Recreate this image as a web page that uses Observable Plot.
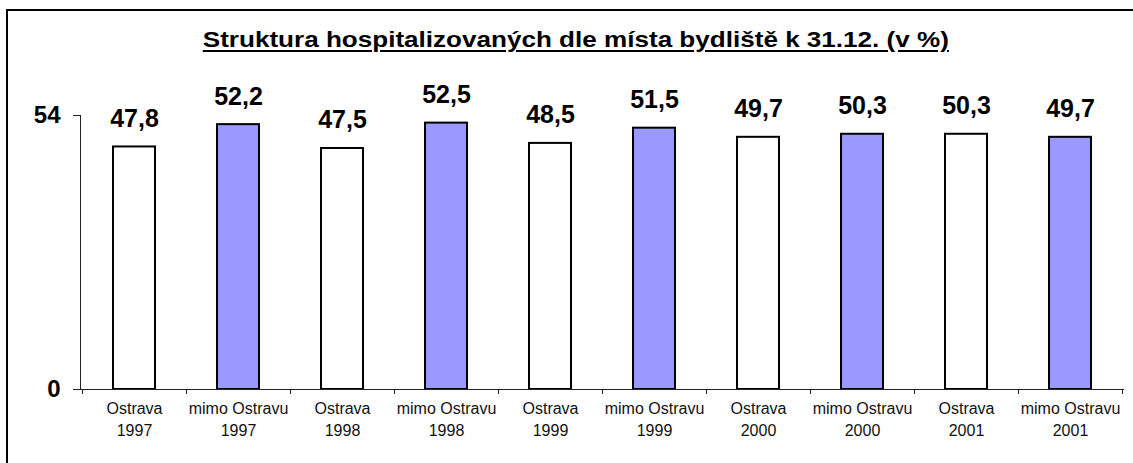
<!DOCTYPE html>
<html>
<head>
<meta charset="utf-8">
<script src="https://cdn.jsdelivr.net/npm/d3@7"></script>
<script src="https://cdn.jsdelivr.net/npm/@observablehq/plot@0.6"></script>
<style>
  html, body { margin: 0; padding: 0; background: #fff; overflow: hidden; }
  #wrap { position: relative; width: 1133px; height: 463px; overflow: hidden; background: #fff; }
  #border { position: absolute; left: 6px; top: 9px; width: 1200px; height: 600px; border: 2px solid #000; box-sizing: border-box; }
  #title { position: absolute; left: 0; top: 27px; width: 1152px; text-align: center; }
  #title span { display: inline-block; transform: scaleX(1.185); transform-origin: center;
    font-family: "Liberation Sans", Arial, sans-serif; font-weight: bold; font-size: 22px;
    text-decoration: underline; text-decoration-thickness: 2px; text-underline-offset: 3px; color: #000; }
  #chart { position: absolute; left: 0; top: 0; }
</style>
</head>
<body>
<div id="wrap">
  <div id="border"></div>
  <div id="title"><span>Struktura hospitalizovaných dle místa bydliště k 31.12. (v %)</span></div>
  <div id="chart"></div>
</div>
<script>
const places = ["Ostrava", "mimo Ostravu", "Ostrava", "mimo Ostravu", "Ostrava", "mimo Ostravu", "Ostrava", "mimo Ostravu", "Ostrava", "mimo Ostravu"];
const years = ["1997", "1997", "1998", "1998", "1999", "1999", "2000", "2000", "2001", "2001"];
const values = [47.8, 52.2, 47.5, 52.5, 48.5, 51.5, 49.7, 50.3, 50.3, 49.7];
const yTicks = [0, 54];
const groups = ["Ostrava", "mimo Ostravu"];
const groupColors = ["#ffffff", "#9999ff"];

const labels = places.map((p, i) => p + "\n" + years[i]);
const data = labels.map((l, i) => ({label: l, place: places[i], value: values[i]}));

const axisLines = (index, scales, vals, dims) => {
  const x = scales.x, y = scales.y;
  const g = d3.create("svg:g").attr("stroke", "#222").attr("stroke-width", 1).attr("fill", "none");
  const step = x(labels[1]) - x(labels[0]);
  const bw = typeof x.bandwidth === "function" ? x.bandwidth() : step * 0.4;
  const gap = (step - bw) / 2;
  const y0 = y(0);
  const left = dims.marginLeft, right = dims.width - dims.marginRight;
  g.append("line").attr("x1", left).attr("x2", right).attr("y1", y0 + 0.5).attr("y2", y0 + 0.5);
  g.append("line").attr("x1", left + 0.5).attr("x2", left + 0.5).attr("y1", y(54)).attr("y2", y0);
  const bounds = labels.map(l => x(l) - gap).concat([x(labels[labels.length - 1]) + bw + gap]);
  for (const b of bounds) {
    const xb = Math.round(b) + 0.5;
    g.append("line").attr("x1", xb).attr("x2", xb).attr("y1", y0).attr("y2", y0 + 5);
  }
  for (const t of yTicks) {
    g.append("line").attr("x1", left - 7).attr("x2", left).attr("y1", Math.round(y(t)) + 0.5).attr("y2", Math.round(y(t)) + 0.5);
  }
  return g.node();
};

const plot = Plot.plot({
  width: 1133,
  height: 463,
  marginLeft: 80,
  marginRight: 9,
  marginTop: 115,
  marginBottom: 74,
  style: {fontFamily: "'Liberation Sans', Arial, sans-serif", background: "transparent", overflow: "visible", color: "#000"},
  x: {domain: labels, paddingInner: 0.6, paddingOuter: 0.3, label: null},
  y: {domain: [0, 54], label: null},
  color: {domain: groups, range: groupColors},
  marks: [
    Plot.axisY({ticks: yTicks, tickSize: 0, tickPadding: 20, fontSize: 24, fontWeight: "bold", tickFormat: d => String(d), label: null}),
    Plot.axisX({tickSize: 0, tickPadding: 10, fontSize: 16, lineHeight: 1.32, label: null, fill: "#111"}),
    Plot.barY(data, {x: "label", y: "value", fill: "place", stroke: "#000", strokeWidth: 2}),
    Plot.text(data, {x: "label", y: "value", text: d => d.value.toFixed(1).replace(".", ","), dy: -20, lineAnchor: "bottom", fontSize: 25, fontWeight: "bold", fill: "#000"}),
    axisLines
  ]
});
document.getElementById("chart").appendChild(plot);
</script>
</body>
</html>
